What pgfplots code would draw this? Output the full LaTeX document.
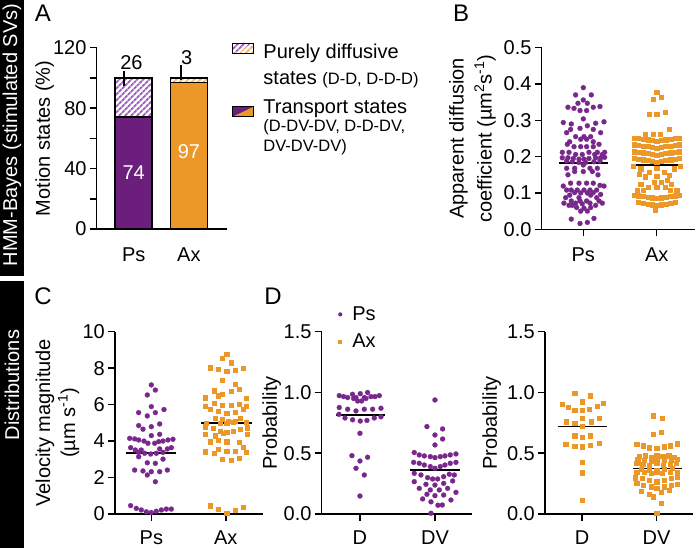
\documentclass[border=0pt]{standalone}
\usepackage{fontspec}
\setmainfont{Liberation Sans}
\usepackage{pgfplots}
\pgfplotsset{compat=1.18}
\usetikzlibrary{patterns.meta}
\definecolor{ppl}{RGB}{120,40,140}
\definecolor{pplbar}{RGB}{108,30,124}
\definecolor{org}{RGB}{236,152,40}
\definecolor{pplL}{RGB}{160,95,188}
\definecolor{orgL}{RGB}{244,176,90}
\newcommand{\fs}{\fontsize{20}{24}\selectfont}
\newcommand{\fss}{\fontsize{16.5}{20}\selectfont}
\tikzset{hatch/.style={pattern={Lines[angle=45,distance=4pt,line width=2pt]}}}
\pgfplotsset{
  base/.style={
    scale only axis,
    anchor=south west,
    axis x line*=bottom, axis y line*=left,
    axis line style={line width=1.5pt},
    tick align=outside,
    major tick length=7pt,
    tick style={line width=1.5pt, black},
    font=\fs,
    tick label style={font=\fs},
    label style={font=\fs},
    /pgf/number format/assume math mode=true,
    yticklabel style={inner sep=3pt},
    xticklabel style={yshift=-8pt},
    clip=false,
  },
  low/.style={xticklabel style={yshift=2pt}},
  dec/.style={yticklabel style={/pgf/number format/fixed, /pgf/number format/fixed zerofill, /pgf/number format/precision=1}},
  ps/.style={only marks, color=ppl, mark=*, mark size=2.5pt, mark options={fill=ppl, draw=ppl, line width=0.2pt}},
  ax/.style={only marks, color=org, mark=square*, mark size=2.1pt, mark options={fill=org, draw=org, line width=0.2pt}},
  mean/.style={black, line width=1.8pt, no marks},
}
\begin{document}
\begin{tikzpicture}
\path[use as bounding box] (0pt,0pt) rectangle (696pt,548pt);
% side bands
\fill[black] (0pt,272pt) rectangle (24pt,548pt);
\fill[black] (0pt,0pt) rectangle (24pt,267pt);
\node[white, rotate=90, font=\fs] at (12pt,413pt) {HMM-Bayes (stimulated SVs)};
\node[white, rotate=90, font=\fs] at (12pt,163pt) {Distributions};
% panel letters
\node[font=\fontsize{24}{28}\selectfont] at (43pt,535pt) {A};
\node[font=\fontsize{24}{28}\selectfont] at (461pt,535pt) {B};
\node[font=\fontsize{24}{28}\selectfont] at (43pt,252pt) {C};
\node[font=\fontsize{24}{28}\selectfont] at (273pt,252pt) {D};

% ================= Panel A
\begin{axis}[base, at={(96.7pt,319pt)}, width=130.3pt, height=181.3pt,
  xmin=-0.67, xmax=1.69, ymin=0, ymax=120,
  xtick={0,1}, xticklabels={Ps,Ax}, xtick style={draw=none},
  ytick={0,20,...,120}, yticklabels={0,,40,,80,,120},
  ylabel={Motion states (\%)},
  ylabel style={at={(axis description cs:-0.40,0.5)}, anchor=center},
  legend style={draw=none, fill=none, font=\fs, inner sep=0pt,
    at={(axis description cs:1.038,1.045)}, anchor=north west,
    cells={anchor=north west, inner sep=0pt}, column sep=7pt, row sep=18.7pt},
]
\addlegendimage{legend image code/.code={
  \path[draw=none, fill=none] (0pt,0pt) -- (21pt,0pt);
  \fill[white, draw=none] (0pt,-3.8pt) rectangle (21pt,-13.8pt);
  \path[draw=none, hatch, pattern color=pplL] (0pt,-13.8pt) -- (0pt,-3.8pt) -- (21pt,-3.8pt) -- cycle;
  \path[draw=none, hatch, pattern color=orgL] (0pt,-13.8pt) -- (21pt,-3.8pt) -- (21pt,-13.8pt) -- cycle;
  \draw[black, fill=none, line width=1.3pt] (0pt,-3.8pt) rectangle (21pt,-13.8pt);
}}
\addlegendentry{\begin{tabular}{@{}l@{}}Purely diffusive\\[2pt]states {\fss(D-D, D-D-D)}\end{tabular}}
\addlegendimage{legend image code/.code={
  \path[draw=none, fill=none] (0pt,0pt) -- (21pt,0pt);
  \fill[pplbar, draw=none] (0pt,-22.5pt) -- (0pt,-12.5pt) -- (21pt,-12.5pt) -- cycle;
  \fill[org, draw=none] (0pt,-22.5pt) -- (21pt,-12.5pt) -- (21pt,-22.5pt) -- cycle;
  \draw[black, fill=none, line width=1.3pt] (0pt,-12.5pt) rectangle (21pt,-22.5pt);
}}
\addlegendentry{\begin{tabular}{@{}l@{}}Transport states\\[-6pt]{\fss(D-DV-DV, D-D-DV,}\\[-4pt]{\fss DV-DV-DV)}\end{tabular}}
% diffusive (full height, hatched)
\addplot[ybar, bar width=37pt, bar shift=0pt, draw=black, line width=1.5pt, hatch, pattern color=pplL] coordinates {(0,100)};
\addplot[ybar, bar width=37pt, bar shift=0pt, draw=black, line width=1.5pt, hatch, pattern color=orgL] coordinates {(1,100)};
% transport
\addplot[ybar, bar width=37pt, bar shift=0pt, draw=black, line width=1.5pt, fill=pplbar] coordinates {(0,74)};
\addplot[ybar, bar width=37pt, bar shift=0pt, draw=black, line width=1.5pt, fill=org] coordinates {(1,97)};
% leader lines
\addplot[black, line width=1.3pt, no marks] coordinates {(-0.175,94.5) (-0.175,104.4)};
\addplot[black, line width=1.3pt, no marks] coordinates {(0.855,98.4) (0.855,108.3)};
\node[font=\fs] at (axis cs:-0.04,110.3) {26};
\node[font=\fs] at (axis cs:0.96,113.6) {3};
\node[font=\fs, white] at (axis cs:0,37) {74};
\node[font=\fs, white] at (axis cs:1,50.9) {97};
\end{axis}

% ================= Panel B
\begin{axis}[base, dec, at={(541.7pt,318.7pt)}, width=153.3pt, height=181.6pt,
  xmin=-0.567, xmax=1.522, ymin=0, ymax=0.5,
  xtick={0,1}, xticklabels={Ps,Ax},
  ytick={0,0.1,...,0.5},
  ylabel={Apparent diffusion\\coefficient (\textmu m\textsuperscript{2}s\textsuperscript{-1})},
  ylabel style={at={(axis description cs:-0.451,0.5)}, anchor=center, align=center, font=\fontsize{20}{28}\selectfont},
]
\addplot[ps] coordinates {
(0,0.390)
(-0.105,0.370) (0.109,0.370)
(0,0.356)
(-0.073,0.347) (0.055,0.347)
(-0.209,0.336) (-0.127,0.333) (0.136,0.336) (0.227,0.338)
(-0.045,0.327) (0.045,0.327)
(0,0.304)
(-0.273,0.294) (-0.164,0.290) (0.168,0.292) (0.282,0.296)
(0.055,0.285)
(-0.045,0.278)
(-0.173,0.275) (0.136,0.275)
(-0.227,0.266) (0.236,0.266)
(-0.105,0.255) (0.009,0.255) (0.1,0.255)
(-0.036,0.248) (0.045,0.248)
(-0.186,0.241) (0.136,0.241)
(-0.218,0.234) (0.214,0.234)
(-0.127,0.2275) (-0.036,0.2275) (0.045,0.2275) (0.136,0.2275)
(-0.286,0.212) (-0.195,0.212) (0.077,0.212) (0.191,0.212) (0.291,0.212)
(-0.105,0.206) (-0.014,0.206) (0.155,0.206) (0.259,0.206)
(-0.286,0.197) (-0.209,0.197) (-0.136,0.195) (-0.059,0.193) (0.009,0.193) (0.077,0.195) (0.168,0.197) (0.236,0.197) (0.291,0.198)
(-0.227,0.188) (-0.15,0.186) (0.145,0.186) (0.227,0.188)
(-0.059,0.184) (0.032,0.184)
(0,0.177)
(-0.227,0.168) (-0.118,0.168) (0.091,0.168) (0.191,0.168)
(-0.118,0.159) (0,0.159) (0.123,0.159)
(-0.209,0.150) (0.2,0.150)
(-0.173,0.127) (-0.059,0.127) (0.045,0.127) (0.136,0.127)
(-0.273,0.119) (0.227,0.121) (0.282,0.119)
(-0.227,0.108) (-0.164,0.108) (-0.082,0.108) (0.009,0.108) (0.091,0.108) (0.182,0.108)
(-0.118,0.101) (-0.036,0.100) (0.055,0.100) (0.136,0.101)
(-0.186,0.094) (0.100,0.094) (0.236,0.096)
(-0.241,0.087) (-0.059,0.087) (0.182,0.087)
(-0.164,0.078) (-0.045,0.078) (0.045,0.078) (0.214,0.078)
(-0.264,0.072) (-0.105,0.072) (-0.014,0.070) (0.091,0.072) (0.259,0.072)
(-0.195,0.066) (-0.15,0.066) (0.168,0.066)
(-0.091,0.060) (0.009,0.058) (0.1,0.060)
(-0.036,0.050) (0.055,0.050)
(-0.164,0.028) (0.145,0.030)
(-0.045,0.016) (0.055,0.019)
};
\addplot[ax] coordinates {
(1.0,0.378) (1.06,0.365) (0.95,0.359)
(1.11,0.322) (0.90,0.318) (1.0,0.318)
(1.17,0.276)
(0.84,0.263) (0.95,0.263) (1.05,0.263)
(0.69,0.252) (0.75,0.251) (0.81,0.249) (0.88,0.247) (0.94,0.245) (1.0,0.243) (1.06,0.245) (1.12,0.247) (1.19,0.249) (1.25,0.251) (1.31,0.252)
(0.69,0.233) (0.75,0.232) (0.81,0.230) (0.88,0.228) (0.94,0.226) (1.0,0.224) (1.06,0.226) (1.12,0.228) (1.19,0.230) (1.25,0.232) (1.31,0.233)
(0.69,0.214) (0.75,0.213) (0.81,0.211) (0.88,0.209) (0.94,0.207) (1.0,0.205) (1.06,0.207) (1.12,0.209) (1.19,0.211) (1.25,0.213) (1.31,0.214)
(0.69,0.195) (0.75,0.194) (0.81,0.192) (0.88,0.190) (0.94,0.188) (1.0,0.186) (1.06,0.188) (1.12,0.190) (1.19,0.192) (1.25,0.194) (1.31,0.195)
(0.68,0.175) (1.32,0.175)
(0.78,0.167) (1.0,0.168) (1.24,0.167)
(0.90,0.158) (1.10,0.158)
(0.76,0.152) (1.17,0.150)
(0.84,0.145) (1.0,0.146)
(1.14,0.136)
(0.96,0.130) (1.06,0.130)
(0.78,0.124) (1.20,0.124)
(0.88,0.117) (1.0,0.116) (1.11,0.117)
(0.73,0.108) (0.82,0.108) (1.18,0.108) (1.27,0.108)
(0.69,0.094) (0.75,0.093) (0.81,0.091) (0.88,0.089) (0.94,0.087) (1.0,0.085) (1.06,0.087) (1.12,0.089) (1.19,0.091) (1.25,0.093) (1.31,0.094)
(0.75,0.074) (0.81,0.072) (0.88,0.070) (0.94,0.068) (1.0,0.066) (1.06,0.068) (1.12,0.070) (1.19,0.072) (1.25,0.074)
(0.98,0.053)
};
\addplot[mean] coordinates {(-0.33,0.182) (0.33,0.182)};
\addplot[mean] coordinates {(0.67,0.178) (1.33,0.178)};
\end{axis}

% ================= Panel C
\begin{axis}[base, low, at={(115pt,34pt)}, width=148pt, height=182.3pt,
  xmin=-0.488, xmax=1.50, ymin=0, ymax=10,
  xtick={0,1}, xticklabels={Ps,Ax},
  ytick={0,2,...,10},
  ylabel={Velocity magnitude\\(\textmu m s\textsuperscript{-1})},
  ylabel style={at={(axis description cs:-0.389,0.5)}, anchor=center, align=center, font=\fontsize{20}{25}\selectfont},
]
\addplot[ps] coordinates {
(0,7.08) (0.054,6.80) (-0.054,6.53) (0,5.89)
(-0.171,5.56) (0.054,5.56) (0.170,5.73) (-0.054,5.38)
(0,4.79) (0.112,4.94) (-0.17,4.85) (-0.112,4.65)
(0,4.30) (0.112,4.37)
(-0.291,4.15) (-0.224,4.12) (-0.170,4.06) (-0.099,4.00) (-0.045,3.88) (0.045,3.88) (0.099,3.97) (0.157,4.00) (0.224,4.06) (0.291,4.10)
(-0.278,3.64) (-0.215,3.51) (-0.135,3.51) (0.112,3.57) (0.215,3.57) (0.269,3.64)
(-0.170,3.38) (-0.090,3.33) (-0.009,3.29) (0.067,3.33) (0.157,3.38)
(-0.170,3.14)
(-0.054,2.81) (0.054,2.78) (0.157,3.01)
(-0.224,2.41) (-0.112,2.36) (0,2.32) (0.112,2.32) (0.215,2.41)
(-0.054,2.14)
(0.054,1.77)
(-0.278,0.46) (-0.202,0.31) (-0.135,0.22) (-0.067,0.12) (0,0.08) (0.067,0.15) (0.135,0.22) (0.202,0.27) (0.269,0.27)
};
\addplot[ax] coordinates {
(1.01,8.76) (0.95,8.54) (1.067,8.30)
(0.785,8.03) (0.897,7.93) (1.01,7.84) (1.121,7.90) (1.233,7.99)
(0.951,7.35) (1.121,7.11)
(0.843,6.77) (0.955,6.56) (1.067,6.74) (1.175,6.86)
(0.726,6.38) (0.897,6.49) (1.278,6.34)
(0.726,5.94) (0.843,6.07) (0.951,5.98) (1.067,5.98) (1.175,6.03) (1.278,5.94)
(0.785,5.76) (0.897,5.65) (1.01,5.53) (1.121,5.61) (1.233,5.76)
(0.852,5.25) (0.951,5.21) (1.031,5.10) (1.121,5.10) (1.188,5.25)
(0.74,4.97) (0.919,4.99) (1.01,4.97) (1.099,5.02) (1.278,5.02)
(0.726,4.79) (0.83,4.70) (0.919,4.55) (1.01,4.48) (1.099,4.55) (1.188,4.66) (1.291,4.74)
(0.726,4.37) (0.852,4.30) (0.964,4.43) (1.291,4.37)
(0.785,3.97) (0.897,4.04) (1.01,3.97)
(1.233,3.65) (1.175,3.93)
(0.726,3.42) (0.843,3.33) (0.897,3.56) (1.01,3.45) (1.121,3.45) (1.278,3.38)
(0.951,3.02) (1.067,2.96) (1.175,3.05)
(0.785,0.46) (0.897,0.27) (1.01,0.03) (1.121,0.22) (1.233,0.40)
};
\addplot[mean] coordinates {(-0.336,3.33) (0.336,3.33)};
\addplot[mean] coordinates {(0.67,4.97) (1.35,4.97)};
\end{axis}

% ================= Panel D left (Ps)
\begin{axis}[base, low, dec, at={(321.7pt,34pt)}, width=150pt, height=182.3pt,
  xmin=-0.51, xmax=1.49, ymin=0, ymax=1.5,
  xtick={0,1}, xticklabels={D,DV},
  ytick={0,0.5,1,1.5},
  ylabel={Probability},
  ylabel style={at={(axis description cs:-0.333,0.5)}, anchor=center},
  legend style={draw=none, fill=none, font=\fs, inner sep=0pt,
    at={(axis description cs:0.089,1.149)}, anchor=north west,
    cells={anchor=west, inner sep=0pt}, column sep=5pt, row sep=8pt},
]
\addlegendimage{legend image code/.code={\path[draw=none, fill=none] (0pt,-4pt) rectangle (10pt,4pt); \fill[ppl, draw=none] (5pt,0pt) circle (2.1pt);}}
\addlegendentry{Ps}
\addlegendimage{legend image code/.code={\path[draw=none, fill=none] (0pt,-4pt) rectangle (10pt,4pt); \fill[org, draw=none] (3pt,-2pt) rectangle (7pt,2pt);}}
\addlegendentry{Ax}
\addplot[ps] coordinates {
(-0.276,0.974) (-0.218,0.966) (-0.164,0.958) (-0.10,0.985) (-0.053,0.958) (-0.031,0.93) (0.022,0.93) (0.004,0.99) (0.058,0.958) (0.102,1.0) (0.147,0.966) (0.2,0.966) (0.258,0.974) (-0.084,0.95) (0.08,0.95)
(-0.276,0.876) (-0.164,0.862) (-0.053,0.848) (0.058,0.862) (0.169,0.862) (0.28,0.87)
(-0.28,0.82)
(-0.2,0.79) (-0.098,0.775) (0.004,0.765) (0.093,0.77) (0.191,0.79) (0.28,0.80)
(0,0.664)
(-0.107,0.48) (0.102,0.467)
(0,0.436)
(-0.053,0.376)
(0.058,0.321)
(0,0.148)
};
\addplot[ps] coordinates {
(1,0.938)
(0.893,0.719) (1.102,0.70) (1,0.65) (1.102,0.617) (1,0.568)
(0.724,0.506) (0.791,0.486) (0.858,0.478) (0.938,0.472) (1,0.464) (1.071,0.472) (1.133,0.478) (1.204,0.486) (1.28,0.494)
(0.716,0.425) (0.791,0.417) (0.858,0.403) (0.938,0.39) (1,0.376) (1.071,0.39) (1.133,0.403) (1.204,0.417) (1.28,0.425)
(0.724,0.335) (0.813,0.321) (0.902,0.299) (0.969,0.288) (1.036,0.288) (1.116,0.307) (1.191,0.327) (1.258,0.321)
(0.724,0.266) (0.88,0.244) (1,0.238) (1.116,0.252) (1.236,0.272)
(0.791,0.211) (0.938,0.198) (1.058,0.198) (1.169,0.211)
(0.893,0.162) (1,0.151) (1.116,0.156) (1.28,0.178)
(0.836,0.124) (0.947,0.10) (1.213,0.115)
(1.040,0.072) (1.098,0.074)
(0.947,0.006)
};
\addplot[mean] coordinates {(-0.32,0.815) (0.333,0.815)};
\addplot[mean] coordinates {(0.67,0.362) (1.34,0.362)};
\end{axis}

% ================= Panel D right (Ax)
\begin{axis}[base, low, dec, at={(545pt,34pt)}, width=148pt, height=182.3pt,
  xmin=-0.50, xmax=1.49, ymin=0, ymax=1.5,
  xtick={0,1}, xticklabels={D,DV},
  ytick={0,0.5,1,1.5},
  ylabel={Probability},
  ylabel style={at={(axis description cs:-0.36,0.5)}, anchor=center},
]
\addplot[ax] coordinates {
(-0.103,0.993) (0.107,0.975) (0.0,0.925)
(-0.268,0.905) (-0.192,0.88) (-0.103,0.855) (0.0,0.855) (0.098,0.86) (0.196,0.89) (0.277,0.91)
(-0.22,0.76) (-0.103,0.745) (0.0,0.79) (0.12,0.76) (0.223,0.787)
(0.0,0.72)
(-0.103,0.645) (0.0,0.635) (0.107,0.645)
(-0.223,0.575) (-0.103,0.56) (0.0,0.555) (0.107,0.565) (0.223,0.585)
(0,0.425) (0,0.34) (0,0.115)
};
\addplot[ax] coordinates {
(0.955,0.81) (1.071,0.79) (0.955,0.655) (1.058,0.672)
(0.732,0.573) (0.821,0.562) (0.902,0.546) (1,0.54) (1.103,0.555) (1.179,0.562) (1.281,0.58)
(0.768,0.475) (0.848,0.48) (0.924,0.47) (1,0.48) (1.08,0.475) (1.161,0.48) (1.237,0.47)
(0.746,0.45) (0.835,0.443) (0.924,0.435) (1,0.45) (1.103,0.443) (1.192,0.443) (1.281,0.45)
(0.732,0.417) (0.812,0.41) (0.902,0.403) (1,0.417) (1.089,0.403) (1.179,0.41) (1.259,0.417)
(0.79,0.37) (0.902,0.365) (1,0.357) (1.103,0.37) (1.205,0.376)
(0.732,0.343) (0.835,0.348) (0.924,0.335) (1,0.348) (1.071,0.335) (1.179,0.343) (1.281,0.348)
(0.714,0.30) (0.804,0.294) (0.902,0.28) (1,0.266) (1.103,0.28) (1.192,0.294) (1.281,0.307)
(0.732,0.253) (0.821,0.238) (0.924,0.225) (1,0.21) (1.103,0.225) (1.192,0.238) (1.281,0.245)
(0.79,0.189) (0.902,0.162) (0.955,0.143) (1.058,0.18) (1.17,0.195)
(1.058,0.088)
(1,0.006)
};
\addplot[mean] coordinates {(-0.326,0.72) (0.33,0.72)};
\addplot[mean] coordinates {(0.68,0.375) (1.34,0.375)};
\end{axis}
\end{tikzpicture}
\end{document}
